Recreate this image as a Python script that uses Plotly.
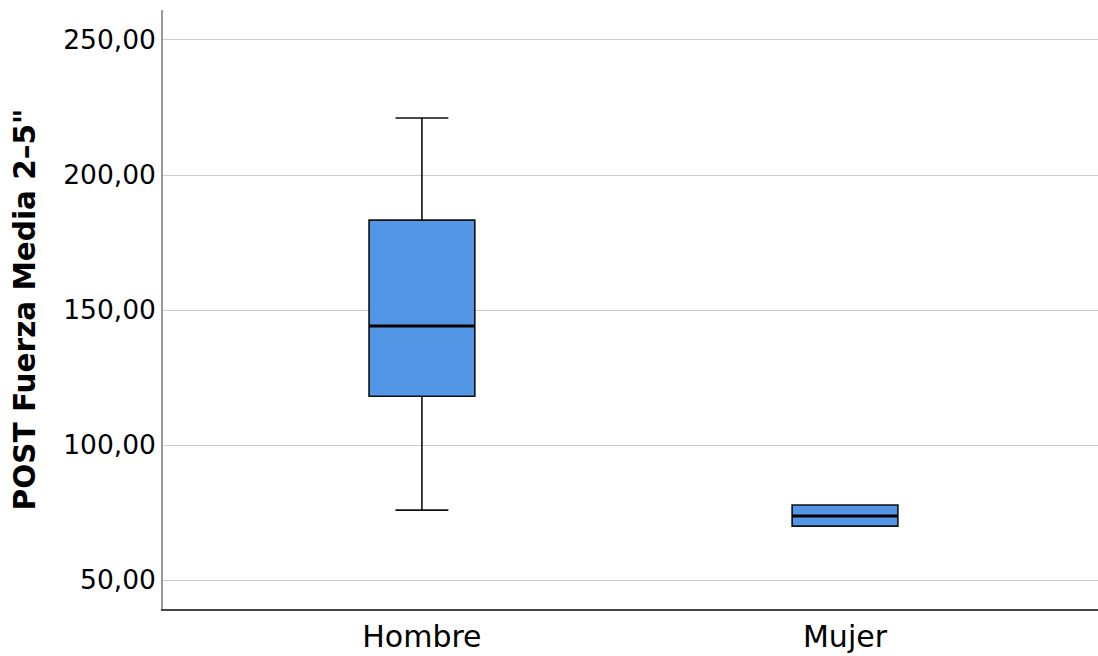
import plotly.graph_objects as go

categories = ["Hombre", "Mujer"]
lower_whisker = [75.9, 70.0]
q1 = [118.1, 70.0]
median = [144.1, 73.7]
q3 = [183.3, 77.8]
upper_whisker = [221.1, 77.8]
y_ticks = [50, 100, 150, 200, 250]

fig = go.Figure()
fig.add_trace(go.Box(
    x=categories, q1=q1, median=median, q3=q3,
    lowerfence=lower_whisker, upperfence=upper_whisker,
    fillcolor="rgb(84,150,230)",
    line=dict(color="#111111", width=1.6),
    whiskerwidth=0.5, width=0.25, boxpoints=False, showlegend=False,
    hoverinfo="skip",
))

# thicker median lines
for i, m in enumerate(median):
    fig.add_shape(type="line", xref="x", yref="y",
                  x0=i - 0.125, x1=i + 0.125, y0=m, y1=m,
                  line=dict(color="black", width=3))

fig.update_layout(
    width=1098, height=656,
    margin=dict(l=163, r=0, t=10, b=47),
    paper_bgcolor="white", plot_bgcolor="white",
    separators=",.",
    font=dict(family="DejaVu Sans", color="black"),
    showlegend=False,
)
fig.update_xaxes(
    type="category", range=[-0.612, 1.598],
    showline=True, linecolor="#444444", linewidth=1.5,
    showgrid=False, ticks="", tickfont=dict(size=30),
)
fig.update_yaxes(
    range=[39.3, 261.1], tickvals=y_ticks, tickformat=".2f",
    showline=True, linecolor="#999999", linewidth=1.5,
    showgrid=True, gridcolor="#cccccc", gridwidth=1.2,
    zeroline=False, ticks="", tickfont=dict(size=26.5),
    title=dict(text="POST Fuerza Media 2\u20135\"", font=dict(size=29.5, weight="bold"), standoff=19),
)

fig.write_html(
    "out.html",
    config={"displayModeBar": False},
    post_script="document.body.style.margin='0';document.body.style.overflow='hidden';",
)
